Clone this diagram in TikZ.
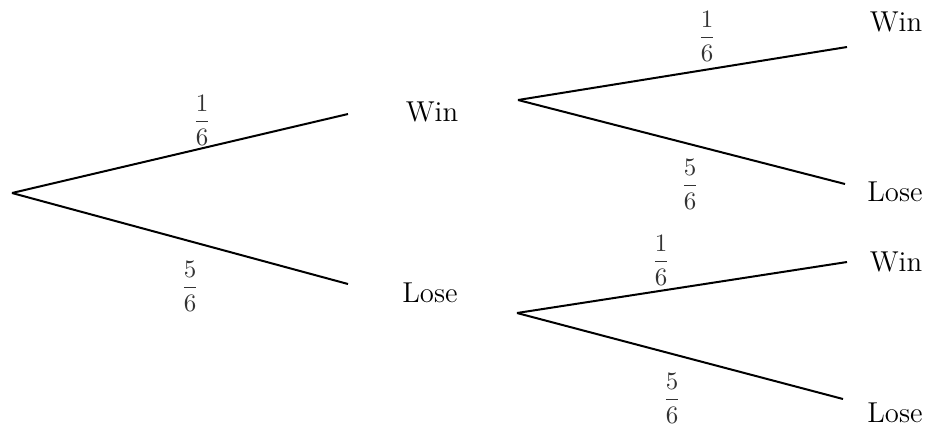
\documentclass[tikz,border=0pt]{standalone}
\usepackage{amssymb}
\usepackage{amsmath}
\usepackage{tikz}
\usetikzlibrary{positioning}

\tikzset{
    branch/.style={line width=0.8pt,black},
    outcome/.style={font=\fontsize{11.5}{13}\selectfont,inner sep=0pt},
    prob/.style={gray!40!black,font=\normalsize,inner sep=0pt}
}

\begin{document}
\begin{tikzpicture}[x=0.4pt,y=-0.4pt]

    \useasboundingbox (0,0) rectangle (932,434);

    % first stage
    \coordinate (root) at (12,193);
    \coordinate (endW) at (348,114);
    \coordinate (endL) at (348,284);
    \node[outcome] (win) at (432,112) {Win};
    \node[outcome] (lose) at (430,293) {Lose};

    % second stage, after a win
    \coordinate (rootW) at (518,100);
    \coordinate (endWW) at (847,47);
    \coordinate (endWL) at (845,184);
    \node[outcome] (winW) at (896,22) {Win};
    \node[outcome] (loseW) at (895,192) {Lose};

    % second stage, after a loss
    \coordinate (rootL) at (517,313);
    \coordinate (endLW) at (847,262);
    \coordinate (endLL) at (843,399);
    \node[outcome] (winL) at (896,262) {Win};
    \node[outcome] (loseL) at (895,413) {Lose};

    \draw[branch] (root) -- (endW);
    \draw[branch] (root) -- (endL);
    \draw[branch] (rootW) -- (endWW);
    \draw[branch] (rootW) -- (endWL);
    \draw[branch] (rootL) -- (endLW);
    \draw[branch] (rootL) -- (endLL);

    \node[prob] (p1) at (202,120) {$\dfrac{1}{6}$};
    \node[prob] (p2) at (190,286) {$\dfrac{5}{6}$};
    \node[prob] (p3) at (707,36) {$\dfrac{1}{6}$};
    \node[prob] (p4) at (690,184) {$\dfrac{5}{6}$};
    \node[prob] (p5) at (661,260) {$\dfrac{1}{6}$};
    \node[prob] (p6) at (672,398) {$\dfrac{5}{6}$};
  \end{tikzpicture}
\end{document}
